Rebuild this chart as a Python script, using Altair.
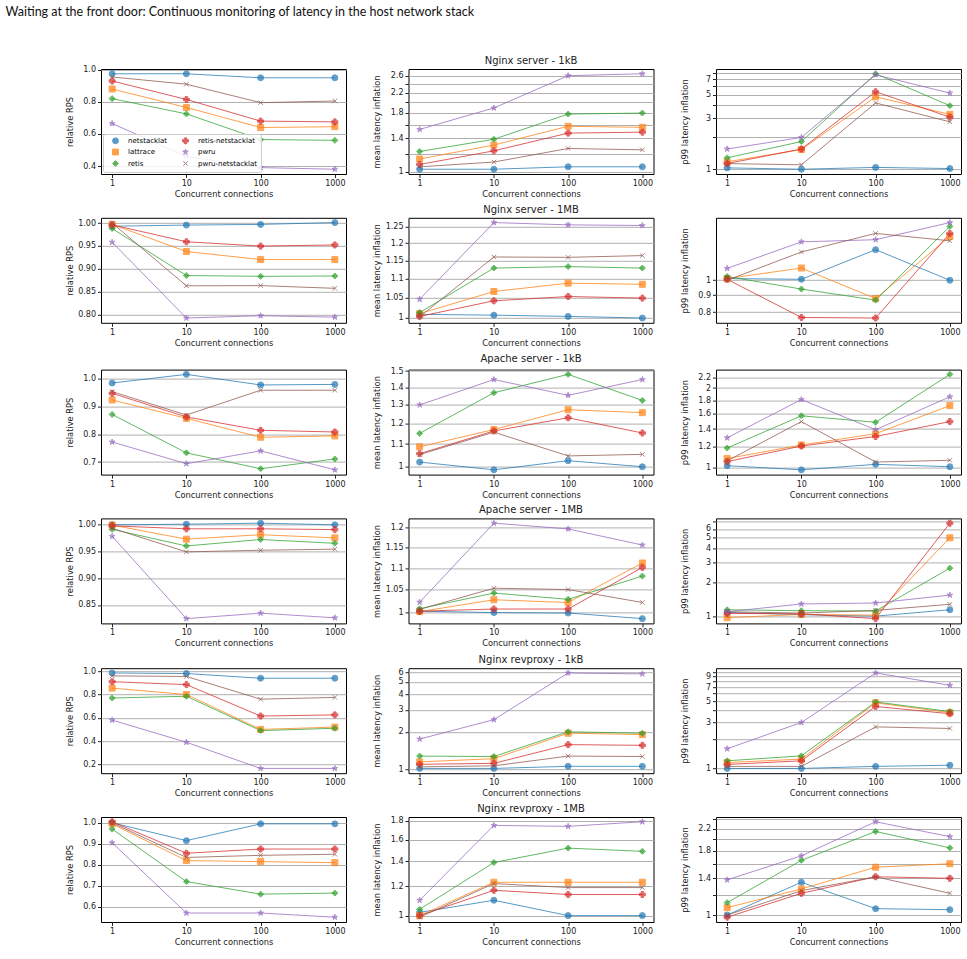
import json
import math
import altair as alt
import pandas as pd

connections = [1, 10, 100, 1000]
series = ["netstacklat", "lattrace", "retis", "retis-netstacklat", "pwru", "pwru-netstacklat"]
color_of = {"netstacklat": "#1f77b4", "lattrace": "#ff7f0e", "retis": "#2ca02c",
            "retis-netstacklat": "#d62728", "pwru": "#9467bd", "pwru-netstacklat": "#8c564b"}
STAR = "M0,-1L0.2245,-0.309L0.951,-0.309L0.363,0.118L0.588,0.809L0,0.382L-0.588,0.809L-0.363,0.118L-0.951,-0.309L-0.2245,-0.309Z"
XMARK = "M-0.75,-0.75L0.75,0.75M0.75,-0.75L-0.75,0.75"
shape_of = {"netstacklat": "circle", "lattrace": "square", "retis": "diamond",
            "retis-netstacklat": "cross", "pwru": STAR, "pwru-netstacklat": XMARK}

# ---------------- data ----------------
nginx_1kB_rps = {
    "netstacklat": [0.975, 0.975, 0.95, 0.95],
    "lattrace": [0.88, 0.765, 0.64, 0.645],
    "retis": [0.82, 0.725, 0.565, 0.56],
    "retis-netstacklat": [0.93, 0.815, 0.68, 0.675],
    "pwru": [0.665, 0.46, 0.39, 0.38],
    "pwru-netstacklat": [0.955, 0.91, 0.795, 0.805],
}
nginx_1kB_mean = {
    "netstacklat": [1.027, 1.027, 1.052, 1.052],
    "lattrace": [1.137, 1.306, 1.573, 1.557],
    "retis": [1.225, 1.383, 1.776, 1.794],
    "retis-netstacklat": [1.077, 1.233, 1.47, 1.484],
    "pwru": [1.525, 1.887, 2.60, 2.65],
    "pwru-netstacklat": [1.052, 1.103, 1.262, 1.245],
}
nginx_1kB_p99 = {
    "netstacklat": [1.03, 1.0, 1.04, 1.015],
    "lattrace": [1.175, 1.53, 4.8, 3.28],
    "retis": [1.28, 1.82, 7.9, 3.96],
    "retis-netstacklat": [1.13, 1.55, 5.35, 3.09],
    "pwru": [1.55, 1.99, 7.72, 5.2],
    "pwru-netstacklat": [1.13, 1.1, 4.2, 2.79],
}
nginx_1MB_rps = {
    "netstacklat": [0.993, 0.9955, 0.997, 1.001],
    "lattrace": [0.997, 0.9376, 0.92, 0.92],
    "retis": [0.988, 0.885, 0.8833, 0.884],
    "retis-netstacklat": [0.996, 0.959, 0.9495, 0.952],
    "pwru": [0.958, 0.792, 0.797, 0.794],
    "pwru-netstacklat": [1.0, 0.8625, 0.863, 0.857],
}
nginx_1MB_mean = {
    "netstacklat": [1.008, 1.006, 1.003, 0.999],
    "lattrace": [1.01, 1.066, 1.088, 1.085],
    "retis": [1.0125, 1.129, 1.133, 1.129],
    "retis-netstacklat": [1.003, 1.042, 1.053, 1.049],
    "pwru": [1.046, 1.262, 1.255, 1.253],
    "pwru-netstacklat": [1.002, 1.16, 1.159, 1.164],
}
nginx_1MB_p99 = {
    "netstacklat": [1.012, 1.007, 1.24, 1.0],
    "lattrace": [1.012, 1.09, 0.879, 1.36],
    "retis": [1.027, 0.94, 0.87, 1.46],
    "retis-netstacklat": [1.007, 0.770, 0.767, 1.39],
    "pwru": [1.087, 1.31, 1.33, 1.50],
    "pwru-netstacklat": [1.0, 1.22, 1.39, 1.32],
}
apache_1kB_rps = {
    "netstacklat": [0.984, 1.015, 0.977, 0.979],
    "lattrace": [0.923, 0.857, 0.789, 0.794],
    "retis": [0.871, 0.733, 0.676, 0.711],
    "retis-netstacklat": [0.947, 0.862, 0.814, 0.808],
    "pwru": [0.772, 0.694, 0.740, 0.672],
    "pwru-netstacklat": [0.953, 0.869, 0.958, 0.958],
}
apache_1kB_mean = {
    "netstacklat": [1.019, 0.986, 1.025, 0.999],
    "lattrace": [1.087, 1.17, 1.273, 1.257],
    "retis": [1.151, 1.368, 1.479, 1.324],
    "retis-netstacklat": [1.056, 1.163, 1.23, 1.153],
    "pwru": [1.299, 1.447, 1.353, 1.447],
    "pwru-netstacklat": [1.052, 1.157, 1.046, 1.053],
}
apache_1kB_p99 = {
    "netstacklat": [1.018, 0.982, 1.03, 1.009],
    "lattrace": [1.083, 1.219, 1.344, 1.717],
    "retis": [1.187, 1.571, 1.485, 2.253],
    "retis-netstacklat": [1.055, 1.208, 1.312, 1.494],
    "pwru": [1.297, 1.81, 1.392, 1.854],
    "pwru-netstacklat": [1.061, 1.494, 1.051, 1.067],
}
apache_1MB_rps = {
    "netstacklat": [0.9995, 1.0006, 1.0025, 0.9994],
    "lattrace": [0.999, 0.9727, 0.981, 0.975],
    "retis": [0.991, 0.96, 0.972, 0.965],
    "retis-netstacklat": [0.9975, 0.992, 0.992, 0.9905],
    "pwru": [0.978, 0.8245, 0.8347, 0.826],
    "pwru-netstacklat": [0.993, 0.949, 0.952, 0.954],
}
apache_1MB_mean = {
    "netstacklat": [1.002, 0.999, 0.998, 0.986],
    "lattrace": [1.001, 1.027, 1.021, 1.112],
    "retis": [1.0074, 1.042, 1.028, 1.081],
    "retis-netstacklat": [1.002, 1.0067, 1.0067, 1.1015],
    "pwru": [1.0216, 1.212, 1.197, 1.156],
    "pwru-netstacklat": [1.006, 1.053, 1.05, 1.021],
}
apache_1MB_p99 = {
    "netstacklat": [1.08, 1.03, 1.0, 1.14],
    "lattrace": [0.97, 1.035, 1.02, 5.0],
    "retis": [1.14, 1.117, 1.11, 2.68],
    "retis-netstacklat": [1.057, 1.05, 0.95, 6.75],
    "pwru": [1.094, 1.284, 1.31, 1.54],
    "pwru-netstacklat": [1.094, 1.065, 1.125, 1.275],
}
revproxy_1kB_rps = {
    "netstacklat": [0.985, 0.98, 0.94, 0.94],
    "lattrace": [0.855, 0.8, 0.5, 0.52],
    "retis": [0.77, 0.785, 0.49, 0.51],
    "retis-netstacklat": [0.91, 0.885, 0.615, 0.625],
    "pwru": [0.58, 0.39, 0.165, 0.165],
    "pwru-netstacklat": [0.96, 0.955, 0.76, 0.775],
}
revproxy_1kB_mean = {
    "netstacklat": [1.02, 1.02, 1.06, 1.06],
    "lattrace": [1.15, 1.22, 1.95, 1.9],
    "retis": [1.28, 1.27, 2.0, 1.95],
    "retis-netstacklat": [1.1, 1.12, 1.58, 1.56],
    "pwru": [1.75, 2.5, 5.9, 5.8],
    "pwru-netstacklat": [1.05, 1.07, 1.28, 1.27],
}
revproxy_1kB_p99 = {
    "netstacklat": [1.0, 1.0, 1.05, 1.08],
    "lattrace": [1.15, 1.25, 4.8, 3.8],
    "retis": [1.2, 1.35, 4.9, 3.9],
    "retis-netstacklat": [1.1, 1.2, 4.4, 3.7],
    "pwru": [1.6, 3.0, 9.8, 7.3],
    "pwru-netstacklat": [1.05, 1.05, 2.7, 2.6],
}
revproxy_1MB_rps = {
    "netstacklat": [1.0, 0.915, 0.995, 0.995],
    "lattrace": [0.995, 0.82, 0.815, 0.81],
    "retis": [0.97, 0.72, 0.66, 0.665],
    "retis-netstacklat": [1.005, 0.855, 0.875, 0.875],
    "pwru": [0.905, 0.57, 0.57, 0.55],
    "pwru-netstacklat": [1.0, 0.835, 0.845, 0.85],
}
revproxy_1MB_mean = {
    "netstacklat": [1.02, 1.1, 1.0, 1.0],
    "lattrace": [1.0, 1.23, 1.23, 1.23],
    "retis": [1.04, 1.39, 1.52, 1.49],
    "retis-netstacklat": [1.0, 1.17, 1.14, 1.14],
    "pwru": [1.1, 1.75, 1.74, 1.79],
    "pwru-netstacklat": [0.99, 1.22, 1.19, 1.19],
}
revproxy_1MB_p99 = {
    "netstacklat": [1.0, 1.35, 1.06, 1.05],
    "lattrace": [1.07, 1.27, 1.55, 1.6],
    "retis": [1.12, 1.65, 2.15, 1.85],
    "retis-netstacklat": [0.98, 1.22, 1.42, 1.4],
    "pwru": [1.38, 1.72, 2.35, 2.05],
    "pwru-netstacklat": [1.0, 1.25, 1.42, 1.22],
}

row_titles = ["Nginx server - 1kB", "Nginx server - 1MB", "Apache server - 1kB",
              "Apache server - 1MB", "Nginx revproxy - 1kB", "Nginx revproxy - 1MB"]
rows_data = [
    (nginx_1kB_rps, nginx_1kB_mean, nginx_1kB_p99),
    (nginx_1MB_rps, nginx_1MB_mean, nginx_1MB_p99),
    (apache_1kB_rps, apache_1kB_mean, apache_1kB_p99),
    (apache_1MB_rps, apache_1MB_mean, apache_1MB_p99),
    (revproxy_1kB_rps, revproxy_1kB_mean, revproxy_1kB_p99),
    (revproxy_1MB_rps, revproxy_1MB_mean, revproxy_1MB_p99),
]
# y tick labels (major) and extra unlabeled grid lines (minor)
rps_ticks = [([0.4, 0.6, 0.8, 1.0], ".1f"), ([0.80, 0.85, 0.90, 0.95, 1.00], ".2f"),
             ([0.7, 0.8, 0.9, 1.0], ".1f"), ([0.85, 0.90, 0.95, 1.00], ".2f"),
             ([0.2, 0.4, 0.6, 0.8, 1.0], ".1f"), ([0.6, 0.7, 0.8, 0.9, 1.0], ".1f")]
mean_ticks = [([1, 1.4, 1.8, 2.2, 2.6], [1.2, 1.6, 2.0, 2.4]),
              ([1, 1.05, 1.1, 1.15, 1.2, 1.25], []),
              ([1, 1.1, 1.2, 1.3, 1.4, 1.5], []),
              ([1, 1.05, 1.1, 1.15, 1.2], []),
              ([1, 2, 3, 4, 5, 6], []),
              ([1, 1.2, 1.4, 1.6, 1.8], [])]
p99_ticks = [([1, 3, 5, 7], [2, 4, 6, 8]),
             ([0.8, 0.9, 1], []),
             ([1, 1.2, 1.4, 1.6, 1.8, 2, 2.2], []),
             ([1, 2, 3, 4, 5, 6, 7], []),
             ([1, 3, 5, 7, 9], [2, 4, 6, 8, 10]),
             ([1, 1.4, 1.8, 2.2], [1.2, 1.6, 2.0, 2.4])]

W, H = 245, 105


def panel(data, log, major, minor, fmt, ytitle, title, show_legend):
    recs = []
    for s in series:
        for c, v in zip(connections, data[s]):
            recs.append({"conn": c, "value": v, "series": s})
    df = pd.DataFrame(recs)
    vals = [v for s in series for v in data[s]]
    lo, hi = min(vals), max(vals)
    if log:
        a, b = math.log(lo), math.log(hi)
        m = 0.05 * (b - a)
        dom = [math.exp(a - m), math.exp(b + m)]
    else:
        m = 0.05 * (hi - lo)
        dom = [lo - m, hi + m]
    ticks = sorted([t for t in major + minor if dom[0] <= t <= dom[1]])
    label_expr = (f"indexof({json.dumps(major)}, datum.value) >= 0 ? "
                  f"format(datum.value, '{fmt}') : ''")
    x = alt.X("conn:Q", title="Concurrent connections",
              scale=alt.Scale(type="log", domain=[10 ** -0.15, 10 ** 3.15], nice=False),
              axis=alt.Axis(values=connections, format="d", grid=False))
    y = alt.Y("value:Q", title=ytitle,
              scale=alt.Scale(type="log" if log else "linear", domain=dom, nice=False, zero=False),
              axis=alt.Axis(values=ticks, labelExpr=label_expr, grid=True))
    if show_legend:
        leg = alt.Legend(title=None, orient="bottom-left", columns=2, labelFontSize=7,
                         labelFont="DejaVu Sans", symbolSize=34, symbolOpacity=0.75,
                         symbolStrokeWidth=1, padding=3, rowPadding=0.5, columnPadding=8,
                         offset=2, strokeColor="#cccccc", fillColor="rgba(255,255,255,0.85)",
                         cornerRadius=2, labelLimit=120, labelOffset=9, symbolOffset=6)
    else:
        leg = None
    cdom = series
    crange = [color_of[s] for s in series]
    srange = [shape_of[s] for s in series]
    lines = alt.Chart(df).mark_line(strokeWidth=1, opacity=0.75).encode(
        x=x, y=y,
        stroke=alt.Stroke("series:N", scale=alt.Scale(domain=cdom, range=crange), legend=leg),
        detail="series:N",
    )
    points = alt.Chart(df).mark_point(filled=True, size=36, opacity=0.7, strokeWidth=1).encode(
        x=x, y=y,
        fill=alt.Fill("series:N", scale=alt.Scale(domain=cdom, range=crange), legend=leg),
        stroke=alt.Stroke("series:N", scale=alt.Scale(domain=cdom, range=crange), legend=leg),
        shape=alt.Shape("series:N", scale=alt.Scale(domain=cdom, range=srange), legend=leg),
    )
    return alt.layer(lines, points).properties(
        width=W, height=H, title=alt.TitleParams(text=title))


rows = []
for i, (d_rps, d_mean, d_p99) in enumerate(rows_data):
    p1 = panel(d_rps, False, rps_ticks[i][0], [], rps_ticks[i][1], "relative RPS", " ", i == 0)
    p2 = panel(d_mean, True, mean_ticks[i][0], mean_ticks[i][1], "~g",
               "mean latency inflation", row_titles[i], False)
    p3 = panel(d_p99, True, p99_ticks[i][0], p99_ticks[i][1], "~g",
               "p99 latency inflation", " ", False)
    row = alt.hconcat(p1, p2, p3, spacing=24.5).resolve_scale(
        fill="independent", stroke="independent", shape="independent")
    rows.append(row)

chart = alt.vconcat(*rows, spacing=4.8).resolve_scale(
    fill="independent", stroke="independent", shape="independent"
).properties(
    title=alt.TitleParams(
        "Waiting at the front door: Continuous monitoring of latency in the host network stack",
        anchor="start", font="Lato", fontSize=12.5, fontWeight="normal", dx=-59, offset=34,
        color="#111111"),
    padding={"left": 5, "top": 5, "right": 1, "bottom": 1},
).configure_view(
    stroke="black", strokeWidth=1
).configure_axis(
    labelFont="DejaVu Sans", titleFont="DejaVu Sans", labelFontSize=8, titleFontSize=8.3,
    titleFontWeight="normal", labelColor="#222222", titleColor="#222222",
    tickColor="#222222", tickSize=3.5, labelPadding=2, domain=False,
    gridColor="#b0b0b0", gridWidth=1, titlePadding=2,
).configure_axisY(
    minExtent=25, maxExtent=25,
).configure_title(
    font="DejaVu Sans", fontSize=10, fontWeight="normal", offset=3, color="#222222"
)

chart.save("out.html", embed_options={"renderer": "svg", "actions": False})
